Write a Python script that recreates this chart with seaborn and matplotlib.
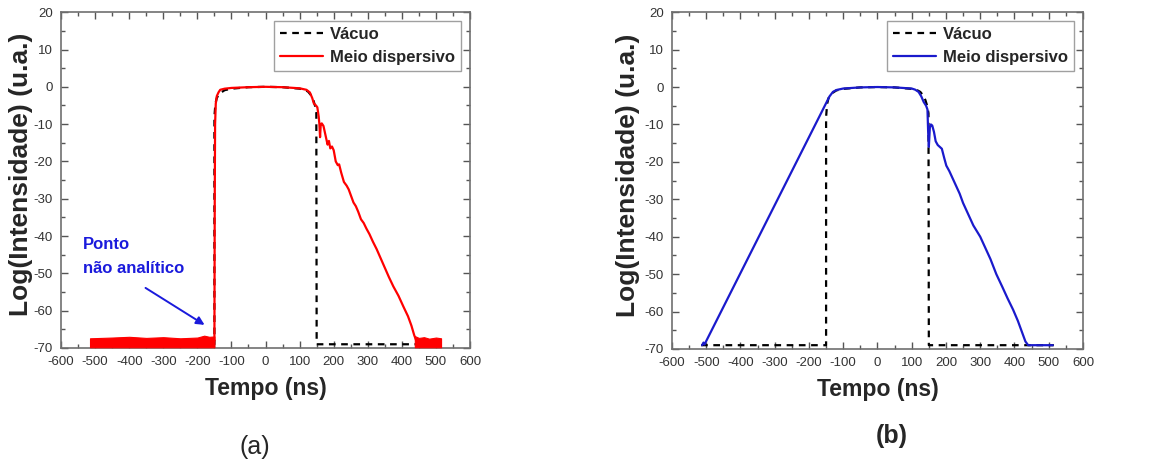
import matplotlib
matplotlib.use("Agg")
import matplotlib.pyplot as plt
import seaborn as sns
from matplotlib.ticker import MultipleLocator

# Vacuum pulse (dashed, both panels)
vac_t = [-515, -150, -150, -147, -143, -138, -130, -120, -100, -50, 0, 50, 100, 115, 125, 133, 140, 145, 149, 150, 515]
vac_y = [-69, -69, -8, -4.5, -3, -2.2, -1.5, -0.9, -0.5, -0.1, 0, -0.1, -0.5, -0.8, -1.3, -2.2, -3.5, -5, -7, -69, -69]

# (a) dispersive medium, main curve
red_t = [-150, -149, -148, -146, -143, -138, -133, -120, -100, -50, 0, 50, 100, 120, 130, 137, 142, 148, 152,
         156, 158, 160, 162, 165, 170, 176, 182, 186, 190, 195, 200, 206, 212, 216, 222, 230, 238, 244, 250,
         258, 265, 272, 280, 288, 296, 305, 315, 326, 338, 350, 362, 375, 390, 405, 418, 428, 436, 442]
red_y = [-68, -30, -10, -4.5, -2.5, -1.5, -0.8, -0.5, -0.3, -0.1, 0, -0.1, -0.4, -0.8, -1.5, -3, -4.5, -5, -5.5,
         -8, -10, -13.5, -10, -9.8, -10.5, -13, -15.5, -14.5, -16.5, -16, -17, -20, -21, -20.8, -23, -25.5,
         -26.5, -27.5, -29, -31, -32, -33.5, -35.5, -36.5, -38, -39.5, -41.5, -43.5, -46, -48.5, -51, -53.5,
         -56, -59, -61.5, -64, -66.5, -68]

# (a) noise floor envelopes
noise_l_t = [-515, -450, -400, -350, -300, -250, -200, -180, -165, -150]
noise_l_hi = [-67.4, -67.2, -67.0, -67.3, -67.1, -67.4, -67.2, -66.7, -67.0, -66.9]
noise_r_t = [438, 450, 465, 480, 500, 515]
noise_r_hi = [-66.8, -67.3, -67.1, -67.5, -67.2, -67.4]
noise_lo = -69.8

# (b) dispersive medium
blue_t = [-512, -508, -505, -140, -130, -120, -100, -50, 0, 50, 100, 110, 120, 128, 135, 142, 146, 148, 150,
          153, 156, 160, 165, 170, 176, 182, 188, 195, 201, 210, 220, 230, 240, 250, 260, 270, 280, 290, 300,
          315, 330, 347, 365, 380, 396, 410, 422, 432, 440, 470, 512]
blue_y = [-69, -68.3, -68.8, -2.5, -1.3, -0.8, -0.4, -0.1, 0, -0.1, -0.4, -0.7, -1.3, -2.5, -4, -5, -6, -12,
          -16, -10.8, -10, -10.3, -12, -14.5, -15.5, -16, -16.5, -19, -21, -22.5, -24.5, -26.5, -28.5, -31,
          -33, -35, -37, -38.5, -40, -43, -46, -50, -53.5, -56.5, -59.5, -62.5, -65.5, -68, -69, -69, -69]

sns.set_style("ticks")
plt.rcParams["font.family"] = ["Liberation Sans", "DejaVu Sans"]
plt.rcParams["axes.unicode_minus"] = False

fig = plt.figure(figsize=(11.56, 4.69), dpi=100)
ax_a = fig.add_axes([0.0528, 0.258, 0.3538, 0.716])
ax_b = fig.add_axes([0.5813, 0.256, 0.3555, 0.718])


def style_axis(ax, ylab_x):
    ax.set_xlim(-600, 600)
    ax.set_ylim(-70, 20)
    ax.xaxis.set_major_locator(MultipleLocator(100))
    ax.xaxis.set_minor_locator(MultipleLocator(50))
    ax.yaxis.set_major_locator(MultipleLocator(10))
    ax.yaxis.set_minor_locator(MultipleLocator(5))
    ax.tick_params(which="both", direction="in", top=True, right=True, color="#555555",
                   labelsize=9.5, labelcolor="#333333")
    ax.tick_params(axis="x", pad=6)
    ax.tick_params(axis="y", pad=6)
    ax.tick_params(which="major", length=5, width=1)
    ax.tick_params(which="minor", length=3, width=1)
    for sp in ax.spines.values():
        sp.set_color("#707070")
        sp.set_linewidth(1.2)
    ax.set_xlabel("Tempo (ns)", fontsize=16.6, fontweight="bold", labelpad=6)
    ax.set_ylabel("Log(Intensidade) (u.a.)", fontsize=19, fontweight="bold")
    ax.yaxis.set_label_coords(ylab_x, 0.516)


# ---------- panel (a) ----------
sns.lineplot(x=vac_t, y=vac_y, ax=ax_a, color="black", linestyle=(0, (3, 2.5)), linewidth=1.6,
             sort=False, estimator=None, label="Vácuo", zorder=3)
sns.lineplot(x=red_t, y=red_y, ax=ax_a, color="#ff0000", linewidth=1.6,
             sort=False, estimator=None, label="Meio dispersivo", zorder=4)
ax_a.fill_between(noise_l_t, noise_lo, noise_l_hi, color="#ff0000", lw=0.8, zorder=4)
ax_a.fill_between(noise_r_t, noise_lo, noise_r_hi, color="#ff0000", lw=0.8, zorder=4)
ax_a.text(-535, -45.4, "Ponto\nnão analítico", color="#1a1adc", fontsize=12, fontweight="bold",
          va="center", ha="left", linespacing=1.75)
ax_a.annotate("", xy=(-172, -64.2), xytext=(-359, -53.5),
              arrowprops=dict(arrowstyle="-|>", color="#1a1adc", lw=1.4, mutation_scale=12))
style_axis(ax_a, -0.068)

# ---------- panel (b) ----------
sns.lineplot(x=vac_t, y=vac_y, ax=ax_b, color="black", linestyle=(0, (3, 2.5)), linewidth=1.6,
             sort=False, estimator=None, label="Vácuo", zorder=3)
sns.lineplot(x=blue_t, y=blue_y, ax=ax_b, color="#1a1acc", linewidth=1.6,
             sort=False, estimator=None, label="Meio dispersivo", zorder=4)
style_axis(ax_b, -0.078)

for ax in (ax_a, ax_b):
    leg = ax.legend(loc="upper right", fancybox=False, frameon=True, borderaxespad=0.55,
                    prop={"weight": "bold", "size": 12}, handlelength=2.6, handletextpad=0.4,
                    borderpad=0.35, labelspacing=0.45)
    leg.get_frame().set_edgecolor("#888888")
    leg.get_frame().set_linewidth(1.0)

fig.text(255 / 1156, 1 - 447 / 469, "(a)", fontsize=18, ha="center", va="center")
fig.text(892 / 1156, 1 - 436 / 469, "(b)", fontsize=18, ha="center", va="center", fontweight="bold")

fig.savefig("out.png", dpi=100)
